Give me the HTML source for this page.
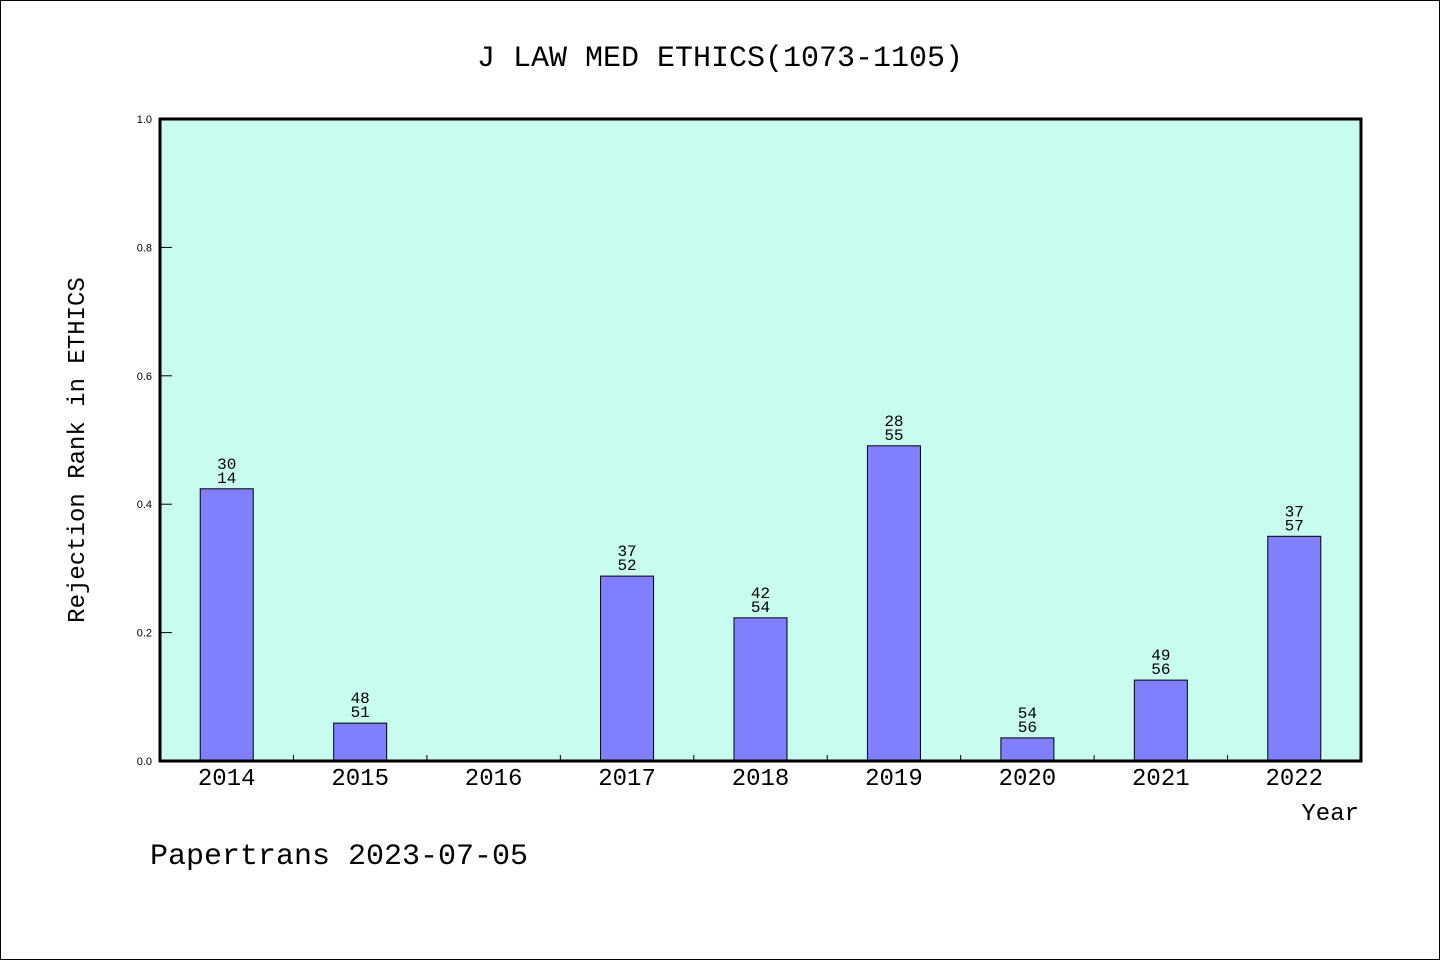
<!DOCTYPE html>
<html><head><meta charset="utf-8"><style>
body{margin:0;background:#fff}
svg{display:block}
text{font-family:"Liberation Mono","DejaVu Sans Mono",monospace;fill:#000}
</style></head><body>
<svg id="chart" width="1440" height="960" xmlns="http://www.w3.org/2000/svg">
<rect x="0.5" y="0.5" width="1439" height="959" fill="#fff" stroke="#000"/>
<text x="720" y="66" font-size="30" text-anchor="middle">J LAW MED ETHICS(1073-1105)</text>
<rect x="160" y="119" width="1201" height="642" fill="#c8fcee"/>
<g id="bars"></g>
<g id="axes"></g>
<rect x="160" y="119" width="1201" height="642" fill="none" stroke="#000" stroke-width="3"/>
<text x="84" y="450" font-size="24" text-anchor="middle" transform="rotate(-90 84 450)">Rejection Rank in ETHICS</text>
<text x="1359" y="820" font-size="24" text-anchor="end">Year</text>
<text x="150" y="864" font-size="30">Papertrans 2023-07-05</text>
</svg>
<script>
const categories=["2014","2015","2016","2017","2018","2019","2020","2021","2022"];
const values=[0.424,0.059,0,0.288,0.223,0.491,0.036,0.126,0.350];
const labelTop=["30","48","","37","42","28","54","49","37"];
const labelBottom=["14","51","","52","54","55","56","56","57"];
const yTicks=[0,0.2,0.4,0.6,0.8,1.0];
const yTickLabels=["0.0","0.2","0.4","0.6","0.8","1.0"];
const NS="http://www.w3.org/2000/svg";
const L=160,R=1361,T=119,B=761;
const band=(R-L)/categories.length;
const x=i=>L+band*(i+0.5);
const y=v=>B-(v-0)/(1-0)*(B-T);
function mk(tag,attrs,parent){const e=document.createElementNS(NS,tag);for(const k in attrs)e.setAttribute(k,attrs[k]);parent.appendChild(e);return e;}
const gb=document.getElementById('bars'),ga=document.getElementById('axes');
categories.forEach((c,i)=>{
  const v=values[i];
  if(v>0){
    const r=mk('rect',{x:x(i)-26.5,y:y(v),width:53,height:B-y(v),fill:'#8080ff',stroke:'#000','stroke-width':1},gb);
    
    
  }
  if(labelTop[i]){
    const t1=mk('text',{x:x(i),y:y(v)-20,'font-size':16,'text-anchor':'middle'},gb);t1.textContent=labelTop[i];
    
    
    const t2=mk('text',{x:x(i),y:y(v)-6,'font-size':16,'text-anchor':'middle'},gb);t2.textContent=labelBottom[i];
    
    
  }
  const xl=mk('text',{x:x(i),y:785,'font-size':24,'text-anchor':'middle'},ga);xl.textContent=c;
  
  
  if(i>0){
    const tk=mk('line',{x1:L+band*i,x2:L+band*i,y1:B,y2:B-6,stroke:'#000'},ga);
    
    
  }
});
yTicks.forEach((v,i)=>{
  const tk=mk('line',{x1:L,x2:L+12,y1:y(v),y2:y(v),stroke:'#000'},ga);
  
  
  const tl=mk('text',{x:L-8,y:y(v)+4,'font-size':11,'text-anchor':'end',style:'font-family:"Liberation Sans",sans-serif'},ga);tl.textContent=yTickLabels[i];
  
  
});
</script>
</body></html>
